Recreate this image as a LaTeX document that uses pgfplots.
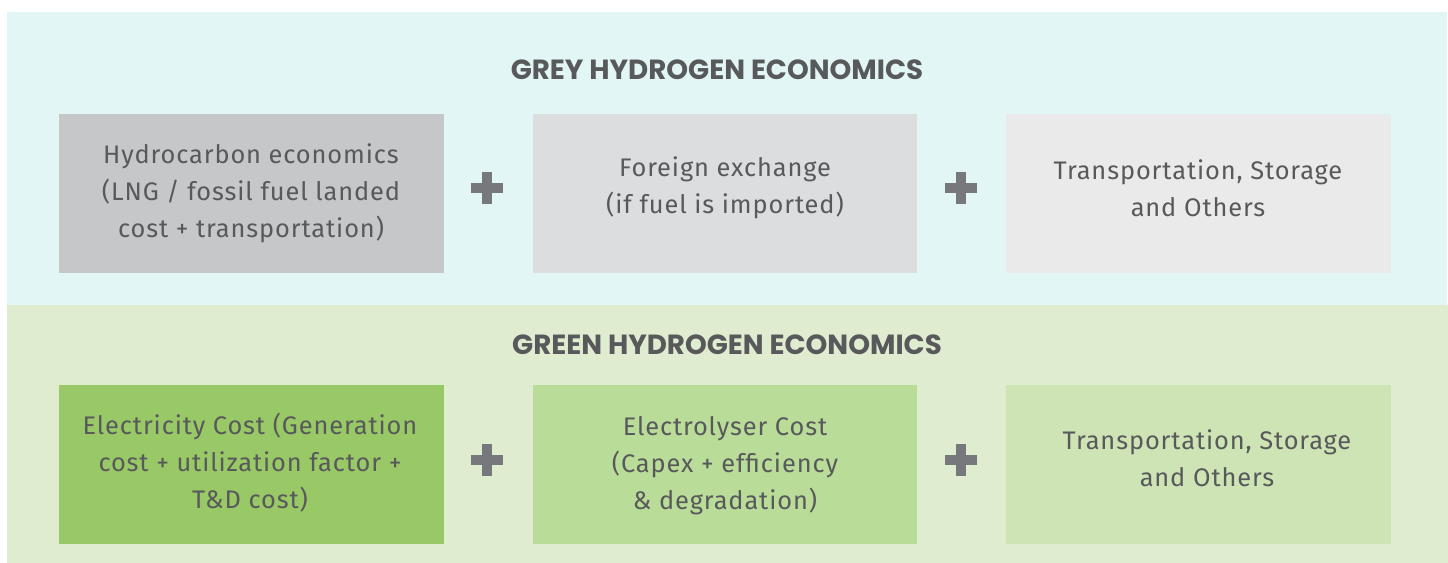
\documentclass[border=0pt]{standalone}
\usepackage{pgfplots}
\pgfplotsset{compat=1.18}
\usepackage{fontspec}
\setmainfont{Fira Sans}[LetterSpace=3.5]
\newfontfamily\titlefont{Poppins}
\definecolor{cyanbg}{HTML}{E1F6F5}
\definecolor{greenbg}{HTML}{DFECCF}
\definecolor{greyA}{HTML}{C6C7C9}
\definecolor{greyB}{HTML}{DCDDDF}
\definecolor{greyC}{HTML}{EAEAEA}
\definecolor{greenA}{HTML}{99C866}
\definecolor{greenB}{HTML}{BADC99}
\definecolor{greenC}{HTML}{CEE4B5}
\definecolor{txt}{HTML}{58595B}
\definecolor{plusc}{HTML}{77787B}
\newcommand{\body}{\fontsize{12.7}{18.5}\selectfont\color{txt}}
\newcommand{\ttl}{\titlefont\bfseries\fontsize{13.85}{16}\selectfont\color{txt}}
\begin{document}
\begin{tikzpicture}
\begin{axis}[width=724pt,height=281.5pt,scale only axis,
  xmin=0,xmax=1448,ymin=0,ymax=563,y dir=reverse,hide axis,clip=false]
% background
\addplot[fill=white,draw=none] coordinates {(0,0)(1448,0)(1448,563)(0,563)} -- cycle;
% panels
\addplot[fill=cyanbg,draw=none] coordinates {(7,12)(1447,12)(1447,305)(7,305)} -- cycle;
\addplot[fill=greenbg,draw=none] coordinates {(7,305)(1448,305)(1448,563)(7,563)} -- cycle;
% grey boxes
\addplot[fill=greyA,draw=none] coordinates {(59,114)(444,114)(444,273)(59,273)} -- cycle;
\addplot[fill=greyB,draw=none] coordinates {(533,114)(917,114)(917,273)(533,273)} -- cycle;
\addplot[fill=greyC,draw=none] coordinates {(1006,114)(1391,114)(1391,273)(1006,273)} -- cycle;
% green boxes
\addplot[fill=greenA,draw=none] coordinates {(59,385)(444,385)(444,544)(59,544)} -- cycle;
\addplot[fill=greenB,draw=none] coordinates {(533,385)(917,385)(917,544)(533,544)} -- cycle;
\addplot[fill=greenC,draw=none] coordinates {(1006,385)(1391,385)(1391,544)(1006,544)} -- cycle;
% plus signs (horizontal and vertical bars)
\addplot[fill=plusc,draw=none] coordinates {(471,183)(503,183)(503,193)(471,193)} -- cycle;
\addplot[fill=plusc,draw=none] coordinates {(482,172)(492,172)(492,204)(482,204)} -- cycle;
\addplot[fill=plusc,draw=none] coordinates {(945,183)(977,183)(977,193)(945,193)} -- cycle;
\addplot[fill=plusc,draw=none] coordinates {(956,172)(966,172)(966,204)(956,204)} -- cycle;
\addplot[fill=plusc,draw=none] coordinates {(471,455)(503,455)(503,465)(471,465)} -- cycle;
\addplot[fill=plusc,draw=none] coordinates {(482,444)(492,444)(492,476)(482,476)} -- cycle;
\addplot[fill=plusc,draw=none] coordinates {(945,455)(977,455)(977,465)(945,465)} -- cycle;
\addplot[fill=plusc,draw=none] coordinates {(956,444)(966,444)(966,476)(956,476)} -- cycle;
% titles
\node[font=\ttl] at (axis cs:717,70) {GREY HYDROGEN ECONOMICS};
\node[font=\ttl] at (axis cs:727,345) {GREEN HYDROGEN ECONOMICS};
% box texts
\node[font=\body,align=center] at (axis cs:251,193) {Hydrocarbon economics\\(LNG / fossil fuel landed\\cost + transportation)};
\node[font=\body,align=center] at (axis cs:725,188) {Foreign exchange\\(if fuel is imported)};
\node[font=\body,align=center] at (axis cs:1198,188) {Transportation, Storage\\and Others};
\node[font=\body,align=center] at (axis cs:250,463) {Electricity Cost (Generation\\cost + utilization factor +\\T\&D cost)};
\node[font=\body,align=center] at (axis cs:725,466) {Electrolyser Cost\\(Capex + efficiency\\\& degradation)};
\node[font=\body,align=center] at (axis cs:1207,458) {Transportation, Storage\\and Others};
\end{axis}
\end{tikzpicture}
\end{document}
